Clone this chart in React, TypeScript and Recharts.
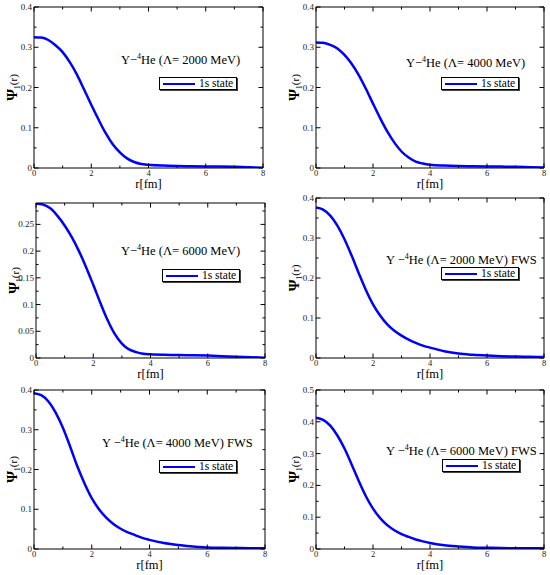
import React from 'react';
import { LineChart, Line, XAxis, YAxis, Legend, Label } from 'recharts';

// r grid [fm]
const rGrid = [0, 0.25, 0.5, 0.75, 1, 1.25, 1.5, 1.75, 2, 2.25, 2.5, 2.75, 3, 3.25, 3.5, 3.75, 4, 4.5, 5, 5.5, 6, 6.5, 7, 7.5, 8];

// Psi_1(r) values for each panel
const psi2000 = [0.325, 0.324, 0.318, 0.305, 0.288, 0.263, 0.232, 0.195, 0.157, 0.121, 0.087, 0.059, 0.039, 0.024, 0.015, 0.010, 0.008, 0.006, 0.005, 0.0045, 0.004, 0.0035, 0.003, 0.002, 0.0005];
const psi4000 = [0.312, 0.311, 0.306, 0.297, 0.281, 0.259, 0.231, 0.197, 0.160, 0.124, 0.091, 0.063, 0.041, 0.026, 0.016, 0.011, 0.008, 0.006, 0.005, 0.0045, 0.004, 0.0035, 0.003, 0.002, 0.001];
const psi6000 = [0.289, 0.287, 0.280, 0.266, 0.248, 0.226, 0.200, 0.170, 0.137, 0.103, 0.071, 0.045, 0.027, 0.016, 0.011, 0.008, 0.007, 0.006, 0.0055, 0.005, 0.0045, 0.0035, 0.0025, 0.0015, 0.0005];
const psi2000F = [0.376, 0.371, 0.356, 0.331, 0.297, 0.256, 0.212, 0.170, 0.134, 0.106, 0.084, 0.068, 0.056, 0.046, 0.038, 0.031, 0.026, 0.017, 0.011, 0.008, 0.006, 0.0045, 0.0035, 0.003, 0.0025];
const psi4000F = [0.392, 0.387, 0.371, 0.343, 0.305, 0.258, 0.208, 0.165, 0.128, 0.100, 0.079, 0.063, 0.051, 0.042, 0.035, 0.028, 0.023, 0.015, 0.010, 0.006, 0.004, 0.003, 0.0025, 0.002, 0.002];
const psi6000F = [0.413, 0.406, 0.388, 0.357, 0.316, 0.266, 0.214, 0.166, 0.127, 0.097, 0.075, 0.059, 0.047, 0.038, 0.030, 0.024, 0.019, 0.012, 0.008, 0.005, 0.004, 0.003, 0.0025, 0.002, 0.002];

// tick values
const xTicks = [0, 1, 2, 3, 4, 5, 6, 7, 8];
const yTicks04 = [0, 0.05, 0.1, 0.15, 0.2, 0.25, 0.3, 0.35, 0.4];
const yTicks029 = [0, 0.025, 0.05, 0.075, 0.1, 0.125, 0.15, 0.175, 0.2, 0.225, 0.25, 0.275];
const yTicks05 = [0, 0.05, 0.1, 0.15, 0.2, 0.25, 0.3, 0.35, 0.4, 0.45, 0.5];

// annotation texts
const systemLabels = ['Y\u2212', 'Y\u2212', 'Y\u2212', 'Y \u2212', 'Y \u2212', 'Y \u2212'];
const lambdaLabels = ['(\u039B= 2000 MeV)', '(\u039B= 4000 MeV)', '(\u039B= 6000 MeV)', '(\u039B= 2000 MeV) FWS', '(\u039B= 4000 MeV) FWS', '(\u039B= 6000 MeV) FWS'];
const seriesName = '1s state';

const FONT = 'Liberation Serif, Times New Roman, DejaVu Serif, serif';
const BLUE = '#0000ff';

const isMajor = (v: number, step: number) => Math.abs(v / step - Math.round(v / step)) < 1e-6;
const fmt = (v: number) => String(Number(v.toFixed(4)));

const XTickBottom = (p: any) => {
  const { x, y, payload } = p;
  const maj = isMajor(payload.value, 2);
  return (
    <g>
      <line x1={x} x2={x} y1={y} y2={y - (maj ? 4.5 : 2.5)} stroke="#000" strokeWidth={1} />
      {maj && (
        <text x={x} y={y + 7.5} textAnchor="middle" fontSize={8.5} fontFamily={FONT} fill="#222">
          {fmt(payload.value)}
        </text>
      )}
    </g>
  );
};

const XTickTop = (p: any) => {
  const { x, y, payload } = p;
  const maj = isMajor(payload.value, 2);
  return <line x1={x} x2={x} y1={y} y2={y + (maj ? 4.5 : 2.5)} stroke="#000" strokeWidth={1} />;
};

const YTickLeft = (p: any) => {
  const { x, y, payload, major } = p;
  const maj = isMajor(payload.value, major);
  return (
    <g>
      <line x1={x} x2={x + (maj ? 4.5 : 2.5)} y1={y} y2={y} stroke="#000" strokeWidth={1} />
      {maj && (
        <text x={x - 2} y={y + 3} textAnchor="end" fontSize={9} fontFamily={FONT} fill="#222">
          {fmt(payload.value)}
        </text>
      )}
    </g>
  );
};

const YTickRight = (p: any) => {
  const { x, y, payload, major } = p;
  const maj = isMajor(payload.value, major);
  return <line x1={x} x2={x - (maj ? 4.5 : 2.5)} y1={y} y2={y} stroke="#000" strokeWidth={1} />;
};

const YLab = (p: any) => {
  const vb = p.viewBox || { x: 0, y: 0, width: 0, height: 0 };
  const bx = vb.x + vb.width - 17;
  const cy = vb.y + vb.height / 2;
  return (
    <text x={bx} y={cy} transform={`rotate(-90, ${bx}, ${cy})`} textAnchor="middle" fontFamily={FONT} fill="#000">
      <tspan fontSize={15} fontWeight="bold">{'\u03A8'}</tspan>
      <tspan fontSize={8} dy={3}>1</tspan>
      <tspan fontSize={11} dy={-3}>(r)</tspan>
    </text>
  );
};

const XLab = (p: any) => {
  const vb = p.viewBox || { x: 0, y: 0, width: 0, height: 0 };
  return (
    <text x={vb.x + vb.width / 2} y={vb.y + 20} textAnchor="middle" fontSize={12.5} fontFamily={FONT} fill="#000">
      r[fm]
    </text>
  );
};

type Cfg = {
  cx: number; cy: number; cw: number; ch: number;
  yw: number; r: number; t: number; xh: number;
  values: number[]; yMax: number; yTicks: number[]; yMajor: number;
  idx: number;
  ann: [number, number]; leg: [number, number];
};

const panels: Cfg[] = [
  { cx: 0, cy: 0, cw: 275, ch: 193, yw: 34, r: 12, t: 7, xh: 25, values: psi2000, yMax: 0.4, yTicks: yTicks04, yMajor: 0.1, idx: 0, ann: [121, 64], leg: [159, 77] },
  { cx: 275, cy: 0, cw: 275, ch: 193, yw: 41, r: 6, t: 7, xh: 25, values: psi4000, yMax: 0.4, yTicks: yTicks04, yMajor: 0.1, idx: 1, ann: [131, 67], leg: [166, 77] },
  { cx: 0, cy: 190, cw: 275, ch: 193, yw: 36, r: 10, t: 13, xh: 25, values: psi6000, yMax: 0.29, yTicks: yTicks029, yMajor: 0.05, idx: 2, ann: [121, 65], leg: [162, 79] },
  { cx: 275, cy: 190, cw: 275, ch: 193, yw: 41, r: 6, t: 8, xh: 25, values: psi2000F, yMax: 0.4, yTicks: yTicks04, yMajor: 0.1, idx: 3, ann: [111, 74], leg: [166, 77] },
  { cx: 0, cy: 380, cw: 275, ch: 195, yw: 34, r: 10, t: 10, xh: 26, values: psi4000F, yMax: 0.4, yTicks: yTicks04, yMajor: 0.1, idx: 4, ann: [102, 67], leg: [159, 80] },
  { cx: 275, cy: 380, cw: 275, ch: 195, yw: 41, r: 6, t: 10, xh: 26, values: psi6000F, yMax: 0.5, yTicks: yTicks05, yMajor: 0.1, idx: 5, ann: [111, 75], leg: [167, 79] },
];

const Overlay = ({ cfg }: { cfg: Cfg }) => (
  <div style={{ position: 'relative', width: cfg.cw, height: cfg.ch, fontFamily: FONT, color: '#000' }}>
    <div style={{ position: 'absolute', left: cfg.ann[0], top: cfg.ann[1] - 10, fontSize: 12.5, lineHeight: '12px', whiteSpace: 'nowrap', fontFamily: FONT }}>
      {systemLabels[cfg.idx]}
      <span style={{ fontSize: 8, position: 'relative', top: -5 }}>4</span>
      He {lambdaLabels[cfg.idx]}
    </div>
    <div
      style={{
        position: 'absolute', left: cfg.leg[0], top: cfg.leg[1], width: 76, height: 11,
        border: '1px solid #000', boxShadow: '1px 1px 0 #444', background: '#fff',
      }}
    >
      <div style={{ position: 'absolute', left: 3, top: 4.5, width: 32, height: 2.5, background: BLUE }} />
      <div style={{ position: 'absolute', left: 39, top: -1, fontSize: 11.5, lineHeight: '13px', whiteSpace: 'nowrap', fontFamily: FONT }}>
        {seriesName}
      </div>
    </div>
  </div>
);

function Panel({ cfg }: { cfg: Cfg }) {
  const data = rGrid.map((rv, i) => ({ r: rv, psi: cfg.values[i] }));
  return (
    <div style={{ position: 'absolute', left: cfg.cx, top: cfg.cy, width: cfg.cw, height: cfg.ch }}>
      <LineChart width={cfg.cw} height={cfg.ch} data={data} margin={{ top: 0, right: 0, bottom: 0, left: 0 }}>
        <XAxis
          xAxisId="b" dataKey="r" type="number" domain={[0, 8]} ticks={xTicks} interval={0}
          height={cfg.xh} tickSize={0} tickMargin={0} tickLine={false} allowDataOverflow
          axisLine={{ stroke: '#000', strokeWidth: 1 }} tick={<XTickBottom />}
        >
          <Label content={<XLab />} />
        </XAxis>
        <XAxis
          xAxisId="t" orientation="top" dataKey="r" type="number" domain={[0, 8]} ticks={xTicks} interval={0}
          height={cfg.t} tickSize={0} tickMargin={0} tickLine={false} allowDataOverflow
          axisLine={{ stroke: '#000', strokeWidth: 1 }} tick={<XTickTop />}
        />
        <YAxis
          yAxisId="l" type="number" domain={[0, cfg.yMax]} ticks={cfg.yTicks} interval={0}
          width={cfg.yw} tickSize={0} tickMargin={0} tickLine={false} allowDataOverflow
          axisLine={{ stroke: '#000', strokeWidth: 1 }} tick={<YTickLeft major={cfg.yMajor} />}
        >
          <Label content={<YLab />} />
        </YAxis>
        <YAxis
          yAxisId="r" orientation="right" type="number" domain={[0, cfg.yMax]} ticks={cfg.yTicks} interval={0}
          width={cfg.r} tickSize={0} tickMargin={0} tickLine={false} allowDataOverflow
          axisLine={{ stroke: '#000', strokeWidth: 1 }} tick={<YTickRight major={cfg.yMajor} />}
        />
        <Line
          xAxisId="b" yAxisId="l" dataKey="psi" name={seriesName} type="monotone"
          stroke={BLUE} strokeWidth={2.5} dot={false} isAnimationActive={false}
        />
        <Legend
          layout="horizontal" verticalAlign="middle" align="center"
          wrapperStyle={{ left: 0, top: 0, width: cfg.cw, height: cfg.ch, pointerEvents: 'none' }}
          content={() => <Overlay cfg={cfg} />}
        />
      </LineChart>
    </div>
  );
}

export default function App() {
  return (
    <div style={{ position: 'absolute', left: 0, top: 0, width: 550, height: 575, background: '#fff', fontFamily: FONT }}>
      {panels.map((p) => (
        <Panel key={p.idx} cfg={p} />
      ))}
    </div>
  );
}
